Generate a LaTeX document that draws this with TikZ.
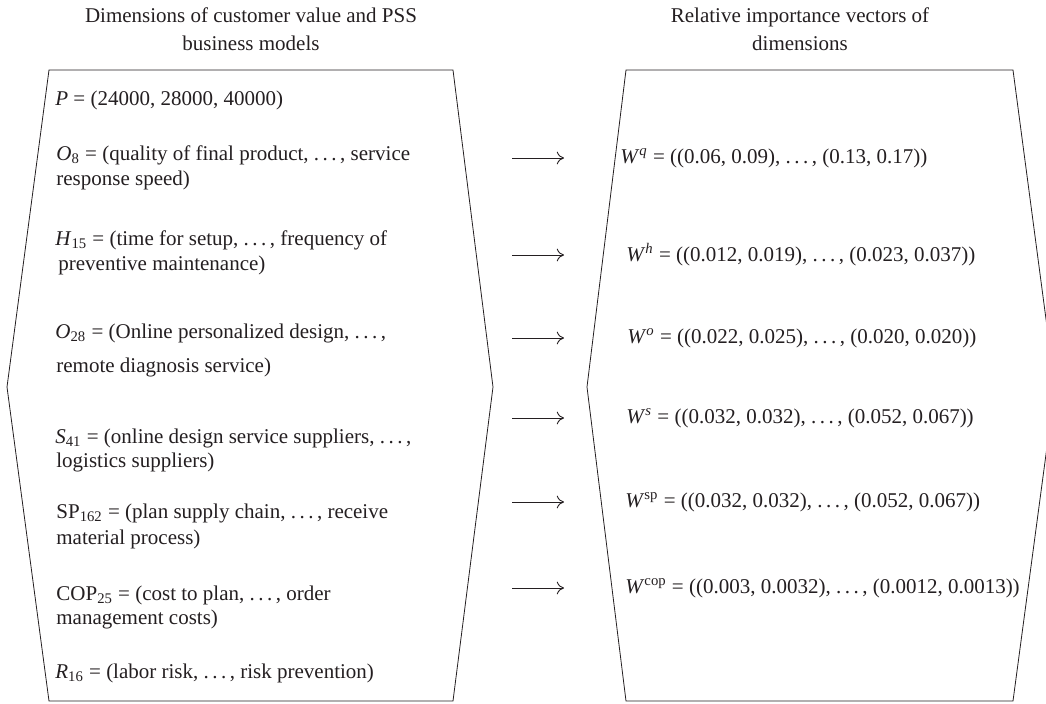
\documentclass[tikz,border=0pt]{standalone}
\usepackage{fontspec}
\setmainfont{Liberation Serif}
\usetikzlibrary{arrows.meta}
\newlength{\du}
\setlength{\du}{0.5pt}
\definecolor{inkcolor}{rgb}{0.140000, 0.120000, 0.130000}
\tikzset{
  dimtext/.style={anchor=west, inner sep=0pt, text=inkcolor, font=\fontsize{10.5}{14}\selectfont},
  headtext/.style={anchor=center, inner sep=0pt, align=center, text=inkcolor, font=\fontsize{10.5}{14}\selectfont},
  vecarrow/.style={draw=inkcolor, line width=0.45pt, -{To[length=3.6pt, width=6.4pt]}}
}

\begin{document}
\begin{tikzpicture}
\pgftransformxscale{1.000000}
\pgftransformyscale{-1.000000}
\useasboundingbox (0\du,0\du) rectangle (1046\du,703\du);
\definecolor{dialinecolor}{rgb}{0.140000, 0.120000, 0.130000}
\pgfsetstrokecolor{dialinecolor}
\definecolor{dialinecolor}{rgb}{1.000000, 1.000000, 1.000000}
\pgfsetfillcolor{dialinecolor}
\pgfsetlinewidth{0.800000\du}
\pgfsetdash{}{0pt}
% titles
\node[headtext] (dimtitle) at (251\du,29\du){Dimensions of customer value and PSS\\business models};
\node[headtext] (vectitle) at (800\du,29\du){Relative importance vectors of\\dimensions};
% left hexagon
\definecolor{dialinecolor}{rgb}{1.000000, 1.000000, 1.000000}
\pgfsetfillcolor{dialinecolor}
\fill (49\du,70\du)--(453\du,70\du)--(493\du,387\du)--(453\du,701\du)--(49\du,701\du)--(7\du,387\du)--cycle;
\definecolor{dialinecolor}{rgb}{0.140000, 0.120000, 0.130000}
\pgfsetstrokecolor{dialinecolor}
\draw (49\du,70\du)--(453\du,70\du)--(493\du,387\du)--(453\du,701\du)--(49\du,701\du)--(7\du,387\du)--cycle;
% right hexagon
\definecolor{dialinecolor}{rgb}{1.000000, 1.000000, 1.000000}
\pgfsetfillcolor{dialinecolor}
\fill (626\du,70\du)--(1013\du,70\du)--(1055\du,387\du)--(1013\du,701\du)--(626\du,701\du)--(587\du,387\du)--cycle;
\definecolor{dialinecolor}{rgb}{0.140000, 0.120000, 0.130000}
\pgfsetstrokecolor{dialinecolor}
\draw (626\du,70\du)--(1013\du,70\du)--(1055\du,387\du)--(1013\du,701\du)--(626\du,701\du)--(587\du,387\du)--cycle;
% setfont left to latex
\node[dimtext] (pline) at (55\du,100\du){\textit{P} = (24000, 28000, 40000)};
% setfont left to latex
\node[dimtext] (oeighta) at (56\du,155\du){\textit{O}\textsubscript{8} = (quality of final product, .\,.\,.\,, service};
\node[dimtext] (oeightb) at (56\du,180\du){response speed)};
% setfont left to latex
\node[dimtext] (hfifteena) at (55\du,240\du){\textit{H}\textsubscript{15} = (time for setup, .\,.\,.\,, frequency of};
\node[dimtext] (hfifteenb) at (58\du,265\du){preventive maintenance)};
% setfont left to latex
\node[dimtext] (otwentya) at (55\du,333\du){\textit{O}\textsubscript{28} = (Online personalized design, .\,.\,.\,,};
\node[dimtext] (otwentyb) at (56\du,367\du){remote diagnosis service)};
% setfont left to latex
\node[dimtext] (sfortya) at (55\du,438\du){\textit{S}\textsubscript{41} = (online design service suppliers, .\,.\,.\,,};
\node[dimtext] (sfortyb) at (56\du,462\du){logistics suppliers)};
% setfont left to latex
\node[dimtext] (spa) at (56\du,513\du){SP\textsubscript{162} = (plan supply chain, .\,.\,.\,, receive};
\node[dimtext] (spb) at (56\du,539\du){material process)};
% setfont left to latex
\node[dimtext] (copa) at (56\du,595\du){COP\textsubscript{25} = (cost to plan, .\,.\,.\,, order};
\node[dimtext] (copb) at (56\du,619\du){management costs)};
% setfont left to latex
\node[dimtext] (rline) at (55\du,673\du){\textit{R}\textsubscript{16} = (labor risk, .\,.\,.\,, risk prevention)};
% setfont left to latex
\node[dimtext] (wq) at (620\du,158\du){\textit{W}\textsuperscript{\textit{q}} = ((0.06, 0.09), .\,.\,.\,, (0.13, 0.17))};
\node[dimtext] (wh) at (626\du,255\du){\textit{W}\textsuperscript{\textit{h}} = ((0.012, 0.019), .\,.\,.\,, (0.023, 0.037))};
\node[dimtext] (wo) at (627\du,338\du){\textit{W}\textsuperscript{\textit{o}} = ((0.022, 0.025), .\,.\,.\,, (0.020, 0.020))};
\node[dimtext] (ws) at (626\du,418\du){\textit{W}\textsuperscript{\textit{s}} = ((0.032, 0.032), .\,.\,.\,, (0.052, 0.067))};
\node[dimtext] (wsp) at (625\du,502\du){\textit{W}\textsuperscript{sp} = ((0.032, 0.032), .\,.\,.\,, (0.052, 0.067))};
\node[dimtext] (wcop) at (625\du,588\du){\textit{W}\textsuperscript{cop} = ((0.003, 0.0032), .\,.\,.\,, (0.0012, 0.0013))};
% arrows
\coordinate (qfrom) at (512\du,158\du);
\coordinate (qto) at (564\du,158\du);
\coordinate (hfrom) at (512\du,255\du);
\coordinate (hto) at (564\du,255\du);
\coordinate (ofrom) at (512\du,338\du);
\coordinate (oto) at (564\du,338\du);
\coordinate (sfrom) at (512\du,418\du);
\coordinate (sto) at (564\du,418\du);
\coordinate (spfrom) at (512\du,502\du);
\coordinate (spto) at (564\du,502\du);
\coordinate (copfrom) at (512\du,588\du);
\coordinate (copto) at (564\du,588\du);
\draw[vecarrow] (qfrom)--(qto);
\draw[vecarrow] (hfrom)--(hto);
\draw[vecarrow] (ofrom)--(oto);
\draw[vecarrow] (sfrom)--(sto);
\draw[vecarrow] (spfrom)--(spto);
\draw[vecarrow] (copfrom)--(copto);
\end{tikzpicture}
\end{document}
